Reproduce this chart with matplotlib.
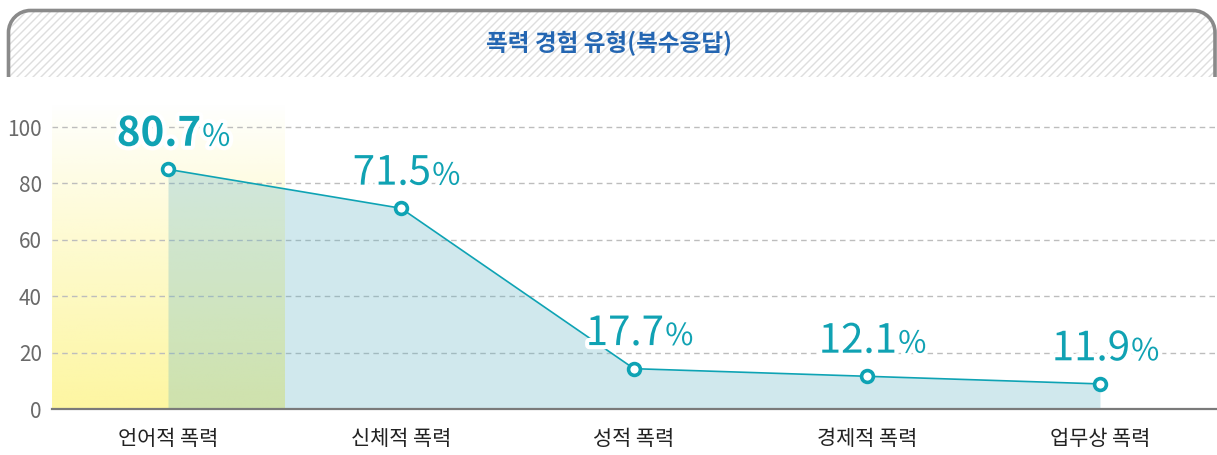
import numpy as np
import matplotlib
matplotlib.use("Agg")
import matplotlib.pyplot as plt
from matplotlib.path import Path
from matplotlib.patches import PathPatch
import matplotlib.patheffects as pe

plt.rcParams['font.family'] = ['Noto Sans CJK KR', 'DejaVu Sans']

# ---- data ----
title = "폭력 경험 유형(복수응답)"
categories = ["언어적 폭력", "신체적 폭력", "성적 폭력", "경제적 폭력", "업무상 폭력"]
plot_values = [85.0, 71.2, 14.3, 11.6, 8.9]
label_values = ["80.7", "71.5", "17.7", "12.1", "11.9"]
yticks = [0, 20, 40, 60, 80, 100]

W, H, DPI = 1217, 455, 100
fig = plt.figure(figsize=(W / DPI, H / DPI), dpi=DPI)
fig.patch.set_facecolor("white")

# ---- banner (background axes in pixel coords) ----
bg = fig.add_axes([0, 0, 1, 1], zorder=0)
bg.set_xlim(0, W)
bg.set_ylim(H, 0)
bg.axis("off")

x0, x1, yt, yb, r = 8.5, 1215, 10.5, 77, 22
k = 0.5523 * r
verts = [(x0, yb), (x0, yt + r),
         (x0, yt + r - k), (x0 + r - k, yt), (x0 + r, yt),
         (x1 - r, yt),
         (x1 - r + k, yt), (x1, yt + r - k), (x1, yt + r),
         (x1, yb)]
codes = [Path.MOVETO, Path.LINETO,
         Path.CURVE4, Path.CURVE4, Path.CURVE4,
         Path.LINETO,
         Path.CURVE4, Path.CURVE4, Path.CURVE4,
         Path.LINETO]
outline = Path(verts, codes)
closed = Path(verts + [(x0, yb)], codes + [Path.CLOSEPOLY])
clip_patch = PathPatch(closed, facecolor="white", edgecolor="none", transform=bg.transData)
bg.add_patch(clip_patch)
spacing = 8.0
for c in np.arange(-100, W + 100, spacing):
    ln, = bg.plot([c, c + 80], [yb + 5, yb + 5 - 80], color="#dedede", lw=1.0, zorder=1)
    ln.set_clip_path(clip_patch)
bg.add_patch(PathPatch(outline, facecolor="none", edgecolor="#8a8a8a", lw=2.6,
                       transform=bg.transData, zorder=3, capstyle="butt"))
bg.text(W / 2, 43, title, ha="center", va="center", fontsize=17, fontweight="bold",
        color="#2466b2", zorder=4)

# ---- main axes ----
left_px, right_px, top_px, bot_px = 51.5, 1216.5, 104.5, 409
ax = fig.add_axes([left_px / W, (H - bot_px) / H, (right_px - left_px) / W, (bot_px - top_px) / H],
                  zorder=1)
ax.patch.set_alpha(0)
ax.set_xlim(-0.5, 4.5)
ax.set_ylim(0, 108)
x = np.arange(len(categories))

# yellow highlight gradient for first category (top white -> bottom yellow)
grad = np.linspace(0, 1, 256)
yel = np.array([253, 246, 158]) / 255.0
img = np.ones((256, 1, 4))
img[:, 0, :3] = yel
img[:, 0, 3] = 0.97 * grad ** 0.9
ax.imshow(img, extent=(-0.5, 0.5, 0, 108), aspect="auto", origin="upper", zorder=0.5)

# grid
for t in yticks[1:]:
    ax.axhline(t, color="#bdbdbd", lw=1.0, dashes=(4, 3), zorder=0.8)

ax.fill_between(x, 0, plot_values, color=(102 / 255, 182 / 255, 198 / 255), alpha=0.3,
                lw=0, zorder=1)
ax.plot(x, plot_values, color="#0ea3b4", lw=1.2, zorder=2)
ax.plot(x, plot_values, "o", ms=8.5, mfc="white", mec="#0ea3b4", mew=2.6, zorder=3)

for s in ["top", "right", "left"]:
    ax.spines[s].set_visible(False)
ax.spines["bottom"].set_color("#7a7a7a")
ax.spines["bottom"].set_linewidth(1.6)
ax.spines["bottom"].set_zorder(4)

ax.set_yticks(yticks)
ax.set_yticklabels([str(t) for t in yticks], fontsize=15, color="#6a6a6a")
ax.set_xticks(x)
ax.set_xticklabels(categories, fontsize=15, color="#222222")
ax.tick_params(axis="y", length=0, pad=7)
ax.tick_params(axis="x", length=0, pad=14)

label_color = "#10a2b3"
stroke = [pe.withStroke(linewidth=6, foreground="white")]
num_texts = []
for i, (xv, yv, lab) in enumerate(zip(x, plot_values, label_values)):
    t = ax.annotate(lab, (xv, yv), xytext=(-6.5, 17), textcoords="offset points",
                    ha="center", va="baseline", fontsize=29,
                    fontweight="bold" if i == 0 else "normal",
                    color=label_color, zorder=5, path_effects=stroke)
    num_texts.append(t)

fig.canvas.draw()
renderer = fig.canvas.get_renderer()
for xv, yv, t in zip(x, plot_values, num_texts):
    ext = t.get_window_extent(renderer)
    px = ax.transData.transform((xv, yv))[0]
    dx_pt = (ext.x1 - px + 1.0) * 72 / DPI
    ax.annotate("%", (xv, yv), xytext=(dx_pt, 17), textcoords="offset points",
                ha="left", va="baseline", fontsize=22, color=label_color, zorder=5,
                path_effects=stroke)

fig.savefig("out.png", dpi=DPI, facecolor="white")
